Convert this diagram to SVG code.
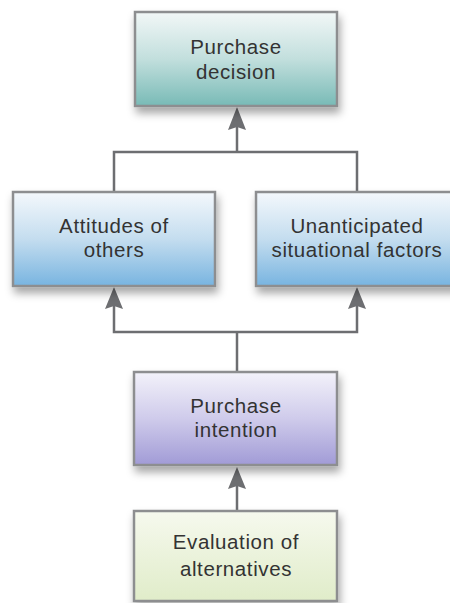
<svg xmlns="http://www.w3.org/2000/svg" width="450" height="603" viewBox="0 0 450 603">
<defs>
<linearGradient id="gTeal" x1="0" y1="0" x2="0" y2="1"><stop offset="0" stop-color="#f2f7f7"/><stop offset="0.5" stop-color="#c2dfdd"/><stop offset="1" stop-color="#78bab6"/></linearGradient>
<linearGradient id="gBlue" x1="0" y1="0" x2="0" y2="1"><stop offset="0" stop-color="#f4f8fc"/><stop offset="0.5" stop-color="#c4ddef"/><stop offset="1" stop-color="#78b4e0"/></linearGradient>
<linearGradient id="gPurple" x1="0" y1="0" x2="0" y2="1"><stop offset="0" stop-color="#f3f2fa"/><stop offset="0.5" stop-color="#cfcbeb"/><stop offset="1" stop-color="#a19bd6"/></linearGradient>
<linearGradient id="gGreen" x1="0" y1="0" x2="0" y2="1"><stop offset="0" stop-color="#f6f9ee"/><stop offset="1" stop-color="#e0ecc9"/></linearGradient>
<filter id="sh" x="-10%" y="-10%" width="125%" height="135%"><feDropShadow dx="2" dy="6" stdDeviation="4" flood-color="#000" flood-opacity="0.35"/></filter>
</defs>
<style>
.box{stroke:#8d8e90;stroke-width:2.5;filter:url(#sh)}
.t{font-family:"Liberation Sans","DejaVu Sans",sans-serif;font-size:20.5px;letter-spacing:0.6px;fill:#333;text-anchor:middle}
.ln{fill:none;stroke:#6d6e71;stroke-width:2.5}
.ah{fill:#6d6e71}
</style>
<g id="connectors">
<path class="ln" d="M114 192 V152 H357 V192"/>
<line class="ln" x1="237" y1="152" x2="237" y2="125"/>
<path class="ah" d="M237 107 L246 130 L237 127 L228 130 Z"/>
<path class="ln" d="M114 305 V332 H357 V305"/>
<line class="ln" x1="237" y1="332" x2="237" y2="372"/>
<path class="ah" d="M114 287 L123 309 L114 306 L105 309 Z"/>
<path class="ah" d="M357 287 L366 309 L357 306 L348 309 Z"/>
<line class="ln" x1="237" y1="484" x2="237" y2="511"/>
<path class="ah" d="M237 467 L246 489 L237 486 L228 489 Z"/>
</g>
<g id="purchase-decision">
<rect class="box" x="135" y="12" width="202" height="94" fill="url(#gTeal)"/>
<text class="t" x="236" y="54">Purchase</text>
<text class="t" x="236" y="79">decision</text>
</g>
<g id="attitudes-of-others">
<rect class="box" x="13" y="192" width="202" height="94" fill="url(#gBlue)"/>
<text class="t" x="114" y="233">Attitudes of</text>
<text class="t" x="114" y="257">others</text>
</g>
<g id="unanticipated-situational-factors">
<rect class="box" x="256" y="192" width="202" height="94" fill="url(#gBlue)"/>
<text class="t" x="357" y="233">Unanticipated</text>
<text class="t" x="357" y="257">situational factors</text>
</g>
<g id="purchase-intention">
<rect class="box" x="134" y="372" width="203" height="93" fill="url(#gPurple)"/>
<text class="t" x="236" y="413">Purchase</text>
<text class="t" x="236" y="437">intention</text>
</g>
<g id="evaluation-of-alternatives">
<rect class="box" x="134" y="511" width="203" height="90" fill="url(#gGreen)"/>
<text class="t" x="236" y="549">Evaluation of</text>
<text class="t" x="236" y="576">alternatives</text>
</g>
</svg>
